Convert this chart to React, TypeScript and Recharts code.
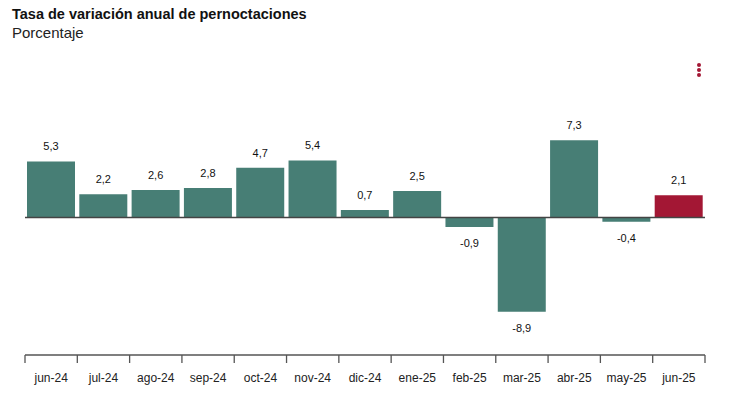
import React from "react";
import { BarChart, Bar, Cell, XAxis, YAxis, ReferenceLine, LabelList } from "recharts";

const months = ["jun-24", "jul-24", "ago-24", "sep-24", "oct-24", "nov-24", "dic-24", "ene-25", "feb-25", "mar-25", "abr-25", "may-25", "jun-25"];
const variation = [5.3, 2.2, 2.6, 2.8, 4.7, 5.4, 0.7, 2.5, -0.9, -8.9, 7.3, -0.4, 2.1];

const data = months.map((month, i) => ({ month, value: variation[i] }));

const W = 746;
const H = 399;
const M = { top: 80, right: 41, bottom: 8, left: 25 };
const AXIS_H = 36;
const STEP = (W - M.left - M.right) / months.length;
const AXIS_Y = H - M.bottom - AXIS_H;

const TEAL = "#477e75";
const RED = "#a31734";
const FONT = "'Liberation Sans', Arial, sans-serif";

const fmt = (v: number) => v.toFixed(1).replace(".", ",");

const MonthTick = (props: any) => {
  const { x, payload, index } = props;
  const left = x - STEP / 2;
  return (
    <g>
      <line x1={left} x2={left} y1={AXIS_Y} y2={AXIS_Y + 8} stroke="#555" strokeWidth={1.3} />
      {index === months.length - 1 && (
        <line x1={left + STEP} x2={left + STEP} y1={AXIS_Y} y2={AXIS_Y + 8} stroke="#555" strokeWidth={1.3} />
      )}
      <text x={x} y={AXIS_Y + 27} textAnchor="middle" fontSize={12} fill="#222" fontFamily={FONT}>
        {payload.value}
      </text>
    </g>
  );
};

const ValueLabel = (props: any) => {
  const { x, y, width, height, value } = props;
  const top = Math.min(y, y + height);
  const bottom = Math.max(y, y + height);
  const ly = value >= 0 ? top - 11 : bottom + 20;
  return (
    <text x={x + width / 2} y={ly} textAnchor="middle" fontSize={11} fill="#111" fontFamily={FONT}>
      {fmt(value)}
    </text>
  );
};

export default function App() {
  return (
    <div style={{ position: "absolute", left: 0, top: 0, width: W, height: H, background: "#fff", fontFamily: FONT }}>
      <div style={{ position: "absolute", left: 12, top: 6, fontSize: 14.5, fontWeight: "bold", color: "#111" }}>
        Tasa de variación anual de pernoctaciones
      </div>
      <div style={{ position: "absolute", left: 12, top: 24, fontSize: 15, color: "#222" }}>Porcentaje</div>
      <svg style={{ position: "absolute", left: 694, top: 62 }} width={10} height={16}>
        <circle cx={5} cy={3} r={2} fill={RED} />
        <circle cx={5} cy={8} r={2} fill={RED} />
        <circle cx={5} cy={13} r={2} fill={RED} />
      </svg>
      <BarChart width={W} height={H} data={data} margin={M} barCategoryGap={2}>
        <YAxis hide domain={[-13, 13]} type="number" />
        <XAxis
          dataKey="month"
          height={AXIS_H}
          tickLine={false}
          axisLine={{ stroke: "#555", strokeWidth: 1.5 }}
          tick={<MonthTick />}
          interval={0}
        />
        <Bar dataKey="value" isAnimationActive={false}>
          {data.map((d, i) => (
            <Cell key={d.month} fill={i === data.length - 1 ? RED : TEAL} />
          ))}
          <LabelList dataKey="value" content={<ValueLabel />} />
        </Bar>
        <ReferenceLine y={0} stroke="#444" strokeWidth={1.5} />
      </BarChart>
    </div>
  );
}
